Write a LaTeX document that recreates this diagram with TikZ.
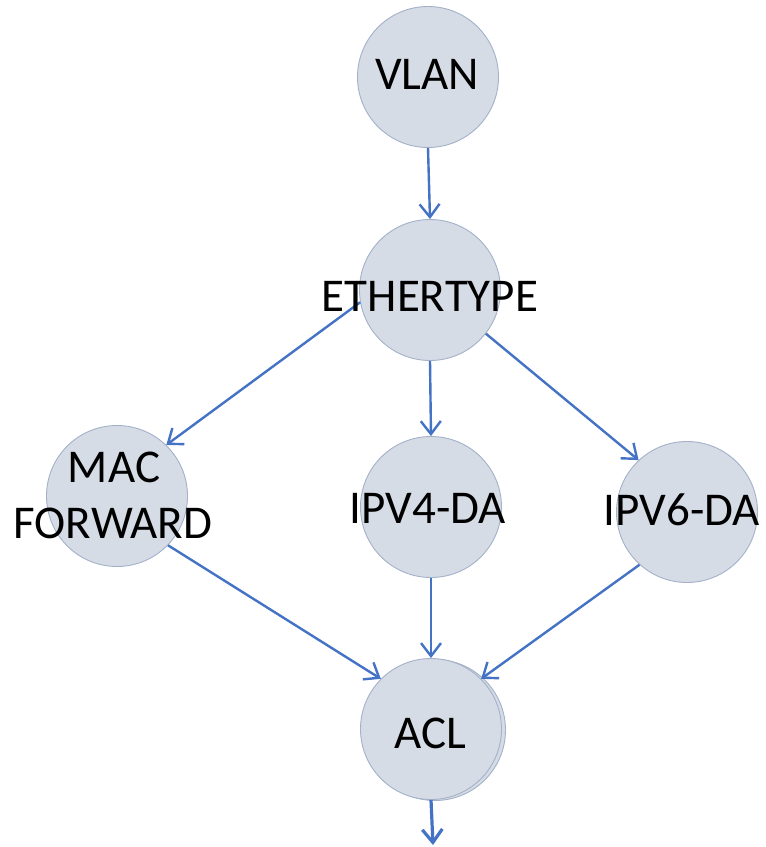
\documentclass[tikz,border=0pt]{standalone}
\usepackage{fontspec}
\setmainfont{Carlito}
\usetikzlibrary{arrows.meta}
\definecolor{nodefill}{HTML}{D6DCE5}
\definecolor{nodeline}{HTML}{A3B1C9}
\definecolor{edgeblue}{HTML}{4472C4}
\begin{document}
\begin{tikzpicture}[x=1pt,y=-1pt,
  stage/.style={circle,minimum size=141pt,inner sep=0pt,fill=nodefill,draw=nodeline,line width=0.9pt},
  caption/.style={anchor=base,inner sep=0pt,font=\fontsize{47}{56}\selectfont},
  flow/.style={draw=edgeblue,line width=2.4pt,-{Straight Barb[length=13pt,width=20pt]}}]
\useasboundingbox (0,0) rectangle (766,847);

% stages
\node[stage] (vlan) at (428,77) {};
\node[stage] (eth) at (430,290) {};
\node[stage] (mac) at (117,496) {};
\node[stage] (ipv4) at (431,507) {};
\node[stage] (ipv6) at (687,512) {};
\node[stage] (aclback) at (435,730) {};
\node[stage] (acl) at (431,729) {};
\coordinate (out) at (433,845);

% connectors
\draw[flow] (vlan.south) -- (eth.north);
\draw[flow] (eth.190) -- (mac.46);
\draw[flow] (eth.south) -- (ipv4.north);
\draw[flow] (eth.-38) -- (ipv6.133);
\draw[flow] (mac.-44) -- (acl.135);
\draw[flow] (ipv4.south) -- (acl.north);
\draw[flow] (ipv6.-132) -- (acl.45);
\draw[flow,line width=3.2pt] (acl.south) -- (out);

% captions
\node[caption] (tvlan) at (427,89) {VLAN};
\node[caption] (teth) at (430,311) {ETHERTYPE};
\node[caption] (tmac) at (114,482) {MAC};
\node[caption] (tfwd) at (113,538) {FORWARD};
\node[caption] (tipv4) at (428,523) {IPV4-DA};
\node[caption] (tipv6) at (682,525) {IPV6-DA};
\node[caption] (tacl) at (430,748) {ACL};
\end{tikzpicture}
\end{document}
